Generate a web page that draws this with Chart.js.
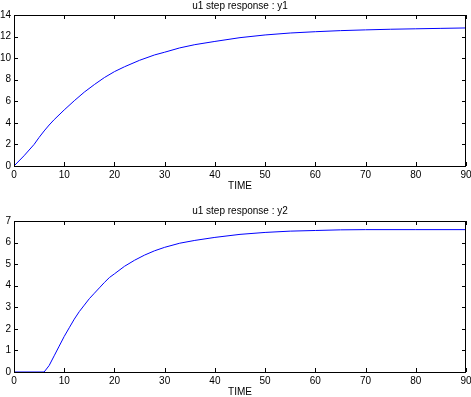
<!DOCTYPE html>
<html>
<head>
<meta charset="utf-8">
<script src="https://cdn.jsdelivr.net/npm/chart.js@4/dist/chart.umd.min.js"></script>
<style>
  html, body { margin: 0; padding: 0; background: #fff; overflow: hidden; }
  .box { position: absolute; left: 0; width: 471px; }
  #top { top: 0; height: 192px; }
  #bottom { top: 192px; height: 206px; }
</style>
</head>
<body>
<div class="box" id="top"><canvas id="chart-y1"></canvas></div>
<div class="box" id="bottom"><canvas id="chart-y2"></canvas></div>
<script>
// y1 response
const timeY1 = [0, 2, 4, 5, 6, 7, 8, 10, 12, 14, 16, 18, 20, 22, 25, 28, 30, 33, 36, 40, 45, 50, 55, 60, 65, 70, 75, 80, 85, 90];
const valuesY1 = [0, 0.95, 2.0, 2.65, 3.25, 3.8, 4.3, 5.2, 6.05, 6.85, 7.55, 8.2, 8.75, 9.2, 9.8, 10.3, 10.55, 10.95, 11.25, 11.55, 11.9, 12.15, 12.33, 12.45, 12.55, 12.62, 12.68, 12.72, 12.76, 12.8];

// y2 response (dead time ~6)
const timeY2 = [0, 6, 7, 8, 9, 10, 11, 12, 13, 14, 15, 16, 17, 18, 19, 20, 22, 24, 26, 28, 30, 33, 36, 40, 45, 50, 55, 60, 65, 70, 80, 90];
const valuesY2 = [0, 0, 0.3, 0.75, 1.2, 1.65, 2.05, 2.45, 2.8, 3.1, 3.4, 3.65, 3.9, 4.15, 4.38, 4.55, 4.9, 5.18, 5.42, 5.62, 5.78, 5.97, 6.1, 6.24, 6.38, 6.47, 6.53, 6.56, 6.59, 6.6, 6.6, 6.6];

const xTicks = [0, 10, 20, 30, 40, 50, 60, 70, 80, 90];

const font = { family: "Liberation Sans, Arial, sans-serif", size: 10 };

// box + inward tick marks on all four sides
const boxTicks = {
  id: "boxTicks",
  afterDraw(chart) {
    const { ctx, chartArea: a, scales } = chart;
    ctx.save();
    ctx.strokeStyle = "#000";
    ctx.lineWidth = 1;
    ctx.strokeRect(Math.round(a.left) + 0.5, Math.round(a.top) + 0.5,
      Math.round(a.right - a.left) - 1, Math.round(a.bottom - a.top));
    ctx.beginPath();
    scales.x.ticks.forEach((t) => {
      const px = Math.round(scales.x.getPixelForValue(t.value)) + 0.5;
      ctx.moveTo(px, a.bottom); ctx.lineTo(px, a.bottom - 4);
      ctx.moveTo(px, a.top); ctx.lineTo(px, a.top + 4);
    });
    scales.y.ticks.forEach((t) => {
      const py = Math.round(scales.y.getPixelForValue(t.value)) + 0.5;
      ctx.moveTo(a.left, py); ctx.lineTo(a.left + 4, py);
      ctx.moveTo(a.right, py); ctx.lineTo(a.right - 4, py);
    });
    ctx.stroke();
    ctx.restore();
  },
};

function makeChart(canvasId, times, values, yMax, yStep, titleText, titlePad) {
  return new Chart(document.getElementById(canvasId), {
    type: "line",
    data: {
      datasets: [
        {
          data: times.map((t, i) => ({ x: t, y: values[i] })),
          borderColor: "#0000ff",
          borderWidth: 1,
          pointRadius: 0,
          tension: 0,
          fill: false,
        },
      ],
    },
    options: {
      responsive: true,
      maintainAspectRatio: false,
      animation: false,
      layout: { padding: { left: 0, right: 5, top: 0, bottom: 0 } },
      plugins: {
        legend: { display: false },
        tooltip: { enabled: false },
        title: {
          display: true,
          text: titleText,
          color: "#000",
          fullSize: false,
          font: { ...font, weight: "normal", lineHeight: 1.2 },
          padding: titlePad,
        },
      },
      scales: {
        x: {
          type: "linear",
          min: 0,
          max: 90,
          afterBuildTicks: (s) => { s.ticks = xTicks.map((v) => ({ value: v })); },
          afterFit: (s) => { s.height = 26; s.paddingLeft = 0; s.paddingRight = 0; },
          grid: { display: false, drawTicks: false },
          border: { display: false },
          ticks: { color: "#000", font, padding: 3, maxRotation: 0 },
          title: { display: true, text: "TIME", color: "#000", font: { ...font, lineHeight: 1.2 }, padding: { top: 0, bottom: 0 } },
        },
        y: {
          min: 0,
          max: yMax,
          afterFit: (s) => { s.width = 14; s.paddingTop = 0; s.paddingBottom = 0; },
          grid: { display: false, drawTicks: false },
          border: { display: false },
          ticks: { color: "#000", font, padding: 3, stepSize: yStep },
        },
      },
    },
    plugins: [boxTicks],
  });
}

makeChart("chart-y1", timeY1, valuesY1, 14, 2, "u1 step response : y1", { top: 0, bottom: 3 });
makeChart("chart-y2", timeY2, valuesY2, 7, 1, "u1 step response : y2", { top: 13, bottom: 4 });
</script>
</body>
</html>
